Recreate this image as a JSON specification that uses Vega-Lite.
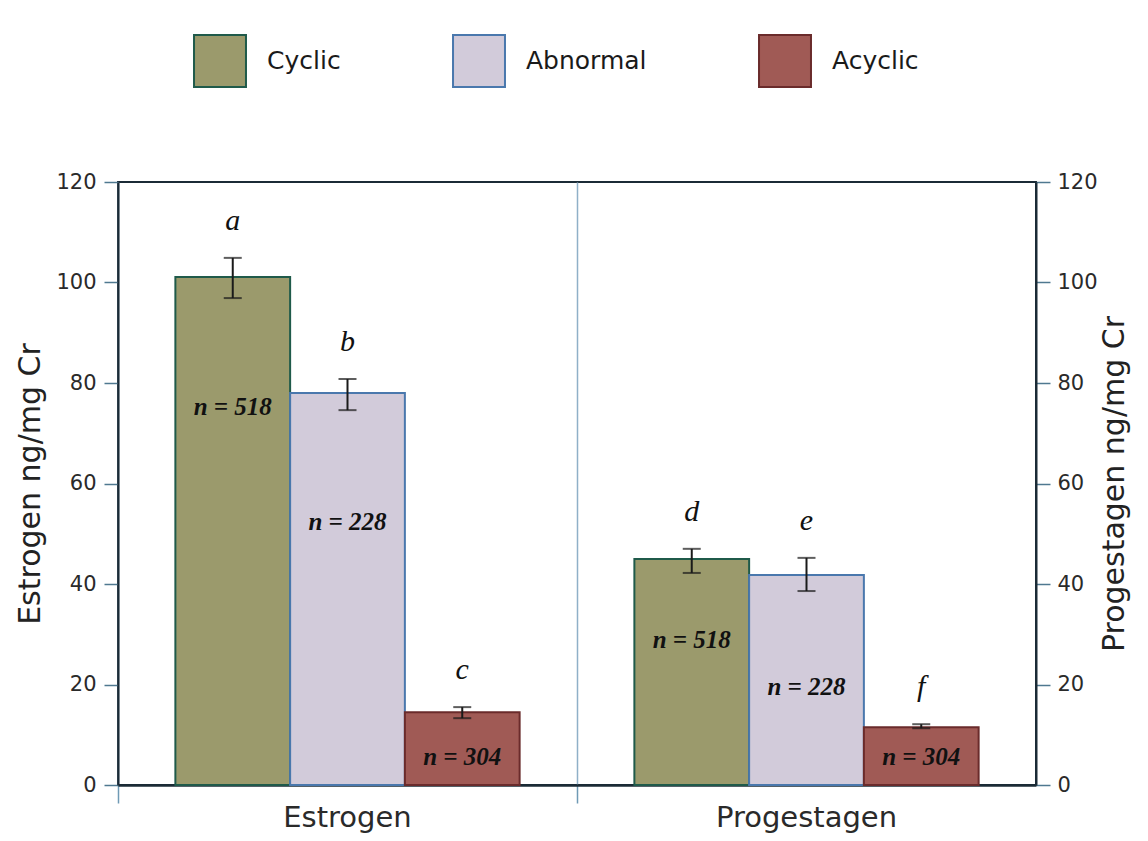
{
  "$schema": "https://vega.github.io/schema/vega-lite/v6.json",
  "width": 918,
  "height": 603,
  "autosize": {"type": "none"},
  "padding": {"left": 118, "top": 182, "right": 112, "bottom": 56},
  "background": "white",
  "data": {
    "values": [
      {"hormone": "Estrogen", "group": "Cyclic", "mean": 101.1, "lo": 96.9, "hi": 104.9, "letter": "a", "nlabel": "n = 518", "n_label_at": 75.2},
      {"hormone": "Estrogen", "group": "Abnormal", "mean": 78.0, "lo": 74.6, "hi": 80.8, "letter": "b", "nlabel": "n = 228", "n_label_at": 52.3},
      {"hormone": "Estrogen", "group": "Acyclic", "mean": 14.5, "lo": 13.3, "hi": 15.5, "letter": "c", "nlabel": "n = 304", "n_label_at": 5.6},
      {"hormone": "Progestagen", "group": "Cyclic", "mean": 45.0, "lo": 42.2, "hi": 47.0, "letter": "d", "nlabel": "n = 518", "n_label_at": 28.9},
      {"hormone": "Progestagen", "group": "Abnormal", "mean": 41.8, "lo": 38.6, "hi": 45.2, "letter": "e", "nlabel": "n = 228", "n_label_at": 19.5},
      {"hormone": "Progestagen", "group": "Acyclic", "mean": 11.5, "lo": 11.3, "hi": 12.1, "letter": "f", "nlabel": "n = 304", "n_label_at": 5.6}
    ]
  },
  "config": {
    "view": {"stroke": "#1b2b36", "strokeWidth": 2},
    "axis": {
      "domainColor": "#1b2b36",
      "domainWidth": 2,
      "tickColor": "#4f7890",
      "tickWidth": 1.5,
      "tickSize": 14,
      "labelFont": "DejaVu Sans",
      "labelFontSize": 21,
      "labelColor": "#2a2a2a",
      "labelLimit": 400,
      "titleFont": "DejaVu Sans",
      "titleFontSize": 30,
      "titleFontWeight": "normal",
      "titleColor": "#222222",
      "grid": false
    }
  },
  "layer": [
    {
      "mark": {"type": "bar", "strokeWidth": 2},
      "encoding": {
        "x": {
          "field": "hormone", "type": "nominal", "sort": ["Estrogen", "Progestagen"],
          "scale": {"paddingInner": 0, "paddingOuter": 0},
          "axis": {
            "title": null, "bandPosition": 0, "labelAngle": 0,
            "grid": true, "gridColor": "#8fb0c8", "gridWidth": 1.5,
            "ticks": true, "tickSize": 18, "tickColor": "#6f9ab5",
            "labelFont": "DejaVu Sans", "labelFontSize": 29, "labelPadding": 0, "labelLimit": 400, "domainWidth": 2.5
          }
        },
        "xOffset": {
          "field": "group", "type": "nominal", "sort": ["Cyclic", "Abnormal", "Acyclic"],
          "scale": {"paddingInner": 0, "paddingOuter": 0.5}
        },
        "y": {
          "field": "mean", "type": "quantitative",
          "scale": {"domain": [0, 120], "nice": false},
          "axis": {"orient": "left", "title": "Estrogen ng/mg Cr", "values": [0, 20, 40, 60, 80, 100, 120], "labelFont": "DejaVu Sans", "labelFontSize": 21, "labelPadding": 8, "titlePadding": 10}
        },
        "color": {
          "field": "group", "type": "nominal", "sort": ["Cyclic", "Abnormal", "Acyclic"],
          "scale": {"domain": ["Cyclic", "Abnormal", "Acyclic"], "range": ["#9b9a6c", "#d2cbda", "#a05a55"]},
          "legend": {
            "title": null, "orient": "none", "legendX": 75, "legendY": -148, "direction": "horizontal",
            "symbolType": "square", "symbolSize": 2700, "symbolStrokeWidth": 2,
            "labelFont": "DejaVu Sans", "labelFontSize": 25, "labelColor": "#1a1a1a",
            "labelOffset": 20, "columnPadding": 108, "padding": 0
          }
        },
        "stroke": {
          "field": "group", "type": "nominal", "sort": ["Cyclic", "Abnormal", "Acyclic"],
          "scale": {"domain": ["Cyclic", "Abnormal", "Acyclic"], "range": ["#1f5a4a", "#4a78ad", "#6a2b2b"]},
          "legend": null
        }
      }
    },
    {
      "mark": {"type": "rule", "color": "#1a1a1a", "strokeWidth": 2},
      "encoding": {
        "x": {"field": "hormone", "type": "nominal", "sort": ["Estrogen", "Progestagen"]},
        "xOffset": {"field": "group", "type": "nominal", "sort": ["Cyclic", "Abnormal", "Acyclic"]},
        "y": {
          "field": "lo", "type": "quantitative",
          "axis": {"orient": "right", "title": "Progestagen ng/mg Cr", "titleAngle": -90, "titleBaseline": "top", "values": [0, 20, 40, 60, 80, 100, 120], "labelFont": "DejaVu Sans", "labelFontSize": 21, "labelPadding": 7, "titlePadding": 2}
        },
        "y2": {"field": "hi"}
      }
    },
    {
      "mark": {"type": "tick", "color": "#1a1a1a", "size": 18, "thickness": 2},
      "encoding": {
        "x": {"field": "hormone", "type": "nominal", "sort": ["Estrogen", "Progestagen"]},
        "xOffset": {"field": "group", "type": "nominal", "sort": ["Cyclic", "Abnormal", "Acyclic"]},
        "y": {"field": "hi", "type": "quantitative", "axis": null}
      }
    },
    {
      "mark": {"type": "tick", "color": "#1a1a1a", "size": 18, "thickness": 2},
      "encoding": {
        "x": {"field": "hormone", "type": "nominal", "sort": ["Estrogen", "Progestagen"]},
        "xOffset": {"field": "group", "type": "nominal", "sort": ["Cyclic", "Abnormal", "Acyclic"]},
        "y": {"field": "lo", "type": "quantitative", "axis": null}
      }
    },
    {
      "mark": {"type": "text", "font": "Liberation Serif", "fontStyle": "italic", "fontSize": 30, "color": "#111111", "baseline": "alphabetic", "dy": -28},
      "encoding": {
        "x": {"field": "hormone", "type": "nominal", "sort": ["Estrogen", "Progestagen"]},
        "xOffset": {"field": "group", "type": "nominal", "sort": ["Cyclic", "Abnormal", "Acyclic"]},
        "y": {"field": "hi", "type": "quantitative", "axis": null},
        "text": {"field": "letter"}
      }
    },
    {
      "mark": {"type": "text", "font": "Liberation Serif", "fontStyle": "italic", "fontWeight": "bold", "fontSize": 25, "color": "#111111", "baseline": "middle"},
      "encoding": {
        "x": {"field": "hormone", "type": "nominal", "sort": ["Estrogen", "Progestagen"]},
        "xOffset": {"field": "group", "type": "nominal", "sort": ["Cyclic", "Abnormal", "Acyclic"]},
        "y": {"field": "n_label_at", "type": "quantitative", "axis": null},
        "text": {"field": "nlabel"}
      }
    }
  ],
  "resolve": {"axis": {"y": "independent"}}
}
